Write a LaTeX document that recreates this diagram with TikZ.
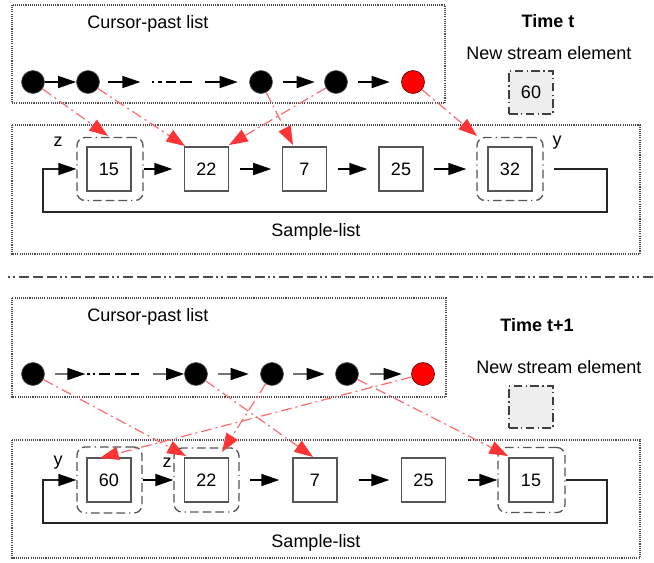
\documentclass[tikz,border=0pt]{standalone}
\usepackage{fontspec}
\setmainfont{Liberation Sans}
\usetikzlibrary{arrows.meta,calc}
\definecolor{arrowred}{HTML}{FF3535}
\definecolor{linered}{HTML}{FF6A6A}
\definecolor{frame}{HTML}{555555}
\definecolor{newfill}{HTML}{EEEEEE}
\tikzset{
  txt/.style={font=\fontsize{13.5}{16}\selectfont, inner sep=0pt},
  outer/.style={draw=black!70, line width=0.85pt, dash pattern=on 0.8pt off 0.8pt},
  cell/.style={draw=frame, fill=white, line width=1.1pt, minimum width=33pt, minimum height=33pt, inner sep=0pt, txt},
  sel/.style={draw=frame, line width=1pt, rounded corners=6pt, inner sep=0pt,
     dash pattern=on 6.5pt off 3pt on 6.5pt off 3pt on 6.5pt off 3pt on 1pt off 3pt},
  newel/.style={draw=black!75, fill=newfill, line width=1.1pt, inner sep=0pt, txt,
     minimum width=33pt, minimum height=32.25pt, dash pattern=on 6.5pt off 2.5pt on 1pt off 2.5pt},
  cdot/.style={circle, fill=black, draw=frame, line width=0.5pt, minimum size=17.25pt, inner sep=0pt},
  reddot/.style={cdot, fill=red, draw=black!60!red},
  arr/.style={draw=black, line width=1.1pt, -{Triangle[length=13.5pt,width=9pt]}},
  arrg/.style={draw=black!55, line width=1.1pt, -{Triangle[length=13.5pt,width=9pt,color=black]}},
  gapline/.style={line width=1.5pt},
  redarr/.style={draw=linered, line width=0.9pt, dash pattern=on 8pt off 3pt on 1.5pt off 3pt,
     -{Triangle[length=14pt,width=10pt,color=arrowred]}},
  looparr/.style={draw=black!85, line width=1.1pt, -{Triangle[length=13.5pt,width=9pt,color=black]}},
  sepline/.style={draw=black!70, line width=1.9pt,
     dash pattern=on 1.5pt off 2.25pt on 1.5pt off 3pt on 7.5pt off 3pt on 7.5pt off 3pt on 7.5pt off 2.25pt},
}
\begin{document}
\begin{tikzpicture}[x=0.75pt,y=-0.75pt]
\useasboundingbox (0,0) rectangle (654,562);

% ================= TIME t =================
\draw[outer] (12,5) rectangle (445,103);
\node[txt] (cpl1) at (148,24) {Cursor-past list};
\draw[outer] (12,125) rectangle (640,254);
\node[txt] (sl1) at (316,232) {Sample-list};

\node[txt, font=\fontsize{13.5}{16}\selectfont\bfseries] (tt) at (548,21) {Time t};
\node[txt] (nse1) at (549,53) {New stream element};
\node[newel] (ne1) at (531,92.5) {60};

% cursor-past list nodes
\node[cdot] (a1) at (33,82) {};
\node[cdot] (a2) at (88,82) {};
\node[cdot] (a3) at (261,82) {};
\node[cdot] (a4) at (336,82) {};
\node[reddot] (a5) at (413,82) {};

\draw[arr] (a1) -- (a2);
\draw[arr] ($(a2.east)+(8.5,0)$) -- ++(32,0);
\draw[gapline, dash pattern=on 1.5pt off 3pt on 2.5pt off 3pt on 7.5pt off 3.5pt on 9pt off 20pt] ($(a2.east)+(52.5,0)$) -- ++(43,0);
\draw[arr] ($(a3.west)+(-44.5,0)$) -- ++(33,0);
\draw[arr, shorten <=7.9pt, shorten >=7.1pt] (a3) -- (a4);
\draw[arr, shorten <=7.9pt, shorten >=8.6pt] (a4) -- (a5);

% sample list
\node[sel, minimum width=49.5pt, minimum height=47.25pt] (s15) at (110,169) {};
\node[sel, minimum width=49.5pt, minimum height=47.25pt] (s32) at (510,169) {};
\node[cell] (p15) at (109,169) {15};
\node[cell] (p22) at (206.5,169) {22};
\node[cell] (p7) at (304.5,169) {7};
\node[cell] (p25) at (401,169) {25};
\node[cell] (p32) at (510,169) {32};
\node[txt] (zt) at (58,142) {z};
\node[txt] (yt) at (557,143) {y};

\draw[arr, shorten >=8.6pt] (s15.east) -- (p22.west);
\draw[arr, shorten <=7.9pt, shorten >=7.9pt] (p22) -- (p7);
\draw[arr, shorten <=7.9pt, shorten >=8.25pt] (p7) -- (p25);
\draw[arr, shorten <=7.5pt, shorten >=7.5pt] (p25) -- (s32);
\draw[looparr] ($(s32.east)+(10,0)$) -| (607,212) -| (43,169) -- (s15.west);

% red pointers
\coordinate (t1) at (108,136);
\coordinate (t2) at (185,146);
\coordinate (t3) at (293,145);
\coordinate (t4) at (229,145);
\coordinate (t5) at (477,136);
\draw[redarr] (a1) -- (t1);
\draw[redarr] (a2) -- (t2);
\draw[redarr] (a3) -- (t3);
\draw[redarr] (a4) -- (t4);
\draw[redarr] (a5) -- (t5);

% ================= separator =================
\coordinate (sepL) at (8,277);
\coordinate (sepR) at (654,277);
\draw[sepline] (sepL) -- (sepR);

% ================= TIME t+1 =================
\draw[outer] (12,298) rectangle (446,397);
\node[txt] (cpl2) at (148,317) {Cursor-past list};
\draw[outer] (12,440) rectangle (640,558);
\node[txt] (sl2) at (316,543) {Sample-list};

\node[txt, font=\fontsize{13.5}{16}\selectfont\bfseries] (tt2) at (537,325) {Time t+1};
\node[txt] (nse2) at (559,367) {New stream element};
\node[newel, minimum height=31.5pt] (ne2) at (531,407) {};

\node[cdot] (b1) at (33,374) {};
\node[cdot] (b2) at (196,374) {};
\node[cdot] (b3) at (272,374) {};
\node[cdot] (b4) at (347,374) {};
\node[reddot] (b5) at (423,374) {};

\draw[arrg] ($(b1.east)+(10.5,0)$) -- ++(30,0);
\draw[gapline, dash pattern=on 2pt off 2.5pt on 1.5pt off 3pt on 8pt off 4pt on 8pt off 4pt on 6pt off 20pt] ($(b1.east)+(42.5,0)$) -- ++(56,0);
\draw[arrg] ($(b2.west)+(-31.5,0)$) -- (b2.west);
\draw[arrg, shorten <=7.9pt, shorten >=8.6pt] (b2) -- (b3);
\draw[arrg, shorten <=7.1pt, shorten >=7.9pt] (b3) -- (b4);
\draw[arrg, shorten <=8.6pt, shorten >=7.1pt] (b4) -- (b5);

\node[sel, minimum width=48.75pt, minimum height=49.5pt] (s60) at (109.5,480) {};
\node[sel, minimum width=48.75pt, minimum height=48pt] (s22) at (206.5,480) {};
\node[sel, minimum width=50.25pt, minimum height=48.75pt] (s15b) at (531.5,480) {};
\node[cell] (q60) at (109,480) {60};
\node[cell] (q22) at (206.5,480) {22};
\node[cell] (q7) at (315,480) {7};
\node[cell] (q25) at (423.5,480) {25};
\node[cell] (q15) at (531,480) {15};
\node[txt] (yb) at (58,463) {y};
\node[txt] (zb) at (167,463) {z};

\draw[arr] (s60.east) -- (s22.west);
\draw[arr, shorten <=7.5pt, shorten >=9.75pt] (s22) -- (q7);
\draw[arr, shorten <=15.75pt, shorten >=8.6pt] (q7) -- (q25);
\draw[arr, shorten <=16.1pt] (q25) -- (s15b);
\draw[looparr] (s15b.east) -| (607,523) -| (43,480) -- (s60.west);

\coordinate (u1) at (186,456);
\coordinate (u2) at (313,457);
\coordinate (u3) at (222,452);
\coordinate (u4) at (508,456);
\coordinate (u5) at (100,458);
\draw[redarr] (b1) -- (u1);
\draw[redarr] (b2) -- (u2);
\draw[redarr] (b3) -- (u3);
\draw[redarr] (b4) -- (u4);
\draw[redarr] (b5) -- (u5);
\end{tikzpicture}
\end{document}
